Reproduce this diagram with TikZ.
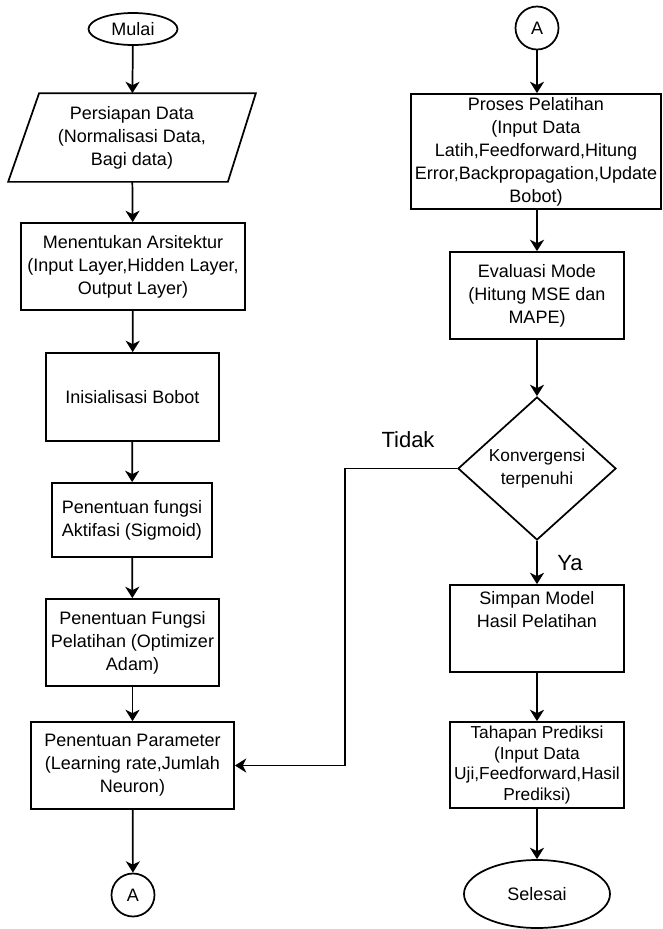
\documentclass[tikz,border=0pt]{standalone}
\usepackage{fontspec}
\setmainfont{Liberation Sans}
\usetikzlibrary{shapes.geometric,arrows.meta,calc}
\begin{document}
\begin{tikzpicture}[x=0.75pt,y=-0.75pt,
  every node/.style={font=\fontsize{13.5}{17.2}\selectfont, align=center, inner sep=0pt, line width=1.3pt},
  proc/.style 2 args={draw, rectangle, minimum width=#1*0.75pt, minimum height=#2*0.75pt},
  term/.style 2 args={draw, ellipse, minimum width=#1*0.75pt, minimum height=#2*0.75pt},
  conn/.style={draw, circle, minimum size=32.25pt},
  lbl/.style={font=\fontsize{16.5}{20}\selectfont},
  flow/.style={line width=1.3pt, -{Stealth[length=8.5pt,width=10.5pt,inset=2.5pt]}}
]
\useasboundingbox (0,0) rectangle (662,929);

% left column
\node[term={89}{32}] (mulai) at (133,29) {Mulai};
\node[minimum width=184.5pt, minimum height=65.25pt] (prep) at (132,137.5) {Persiapan Data\\(Normalisasi Data,\\Bagi data)};
\draw[line width=1.3pt] ($(prep.north west)+(31,0)$) -- (prep.north east) -- ($(prep.south east)+(-28,0)$) -- (prep.south west) -- cycle;
\node[proc={224}{87}] (arsi) at (133,266.5) {Menentukan Arsitektur\\(Input Layer,Hidden Layer,\\Output Layer)};
\node[proc={173}{88}] (init) at (132.5,397) {Inisialisasi Bobot};
\node[proc={160}{74}] (aktif) at (132,520) {Penentuan fungsi\\Aktifasi (Sigmoid)};
\node[proc={173}{87}] (optim) at (132.5,642.5) {Penentuan Fungsi\\Pelatihan (Optimizer\\Adam)};
\node[proc={203}{87}] (param) at (132.5,765.5) {Penentuan Parameter\\(Learning rate,Jumlah\\Neuron)};
\node[conn] (A1) at (133,895) {A};

% right column
\node[conn] (A2) at (537,28) {A};
\node[proc={250}{115}] (proses) at (536,151.5) {Proses Pelatihan\\(Input Data\\Latih,Feedforward,Hitung\\Error,Backpropagation,Update\\Bobot)};
\node[proc={174}{87}] (eval) at (537,295.5) {Evaluasi Mode\\(Hitung MSE dan\\MAPE)};
\node[draw, diamond, minimum width=118.5pt, minimum height=107.25pt, font=\fontsize{13}{17}\selectfont] (konv) at (537,468.5) {Konvergensi\\terpenuhi};
\node[proc={174}{87}] (simpan) at (537,628.5) {Simpan Model\\Hasil Pelatihan\\[12pt]};
\node[proc={174}{86}, font=\fontsize{13}{15.5}\selectfont] (tahap) at (537,765) {Tahapan Prediksi\\(Input Data\\Uji,Feedforward,Hasil\\Prediksi)};
\node[term={146}{68}] (selesai) at (537,894) {Selesai};

\coordinate (turn) at (345,765.5);

% connectors
\draw[flow] (mulai) -- (prep);
\draw[flow] (prep) -- (arsi);
\draw[flow] (arsi) -- (init);
\draw[flow] (init) -- (aktif);
\draw[flow] (aktif) -- (optim);
\draw[flow] (optim) -- (param);
\draw[flow] (param) -- (A1);
\draw[flow] (A2) -- (A2 |- proses.north);
\draw[flow] (proses.south -| eval) -- (eval);
\draw[flow] (eval) -- (konv);
\draw[flow] (konv) -- (simpan);
\draw[flow] (simpan) -- (tahap);
\draw[flow] (tahap) -- (selesai);
\draw[flow] (konv.west) -| (turn) -- (param.east);

\node[lbl] (tidak) at (408,440) {Tidak};
\node[lbl] (ya) at (570,563) {Ya};
\end{tikzpicture}
\end{document}
